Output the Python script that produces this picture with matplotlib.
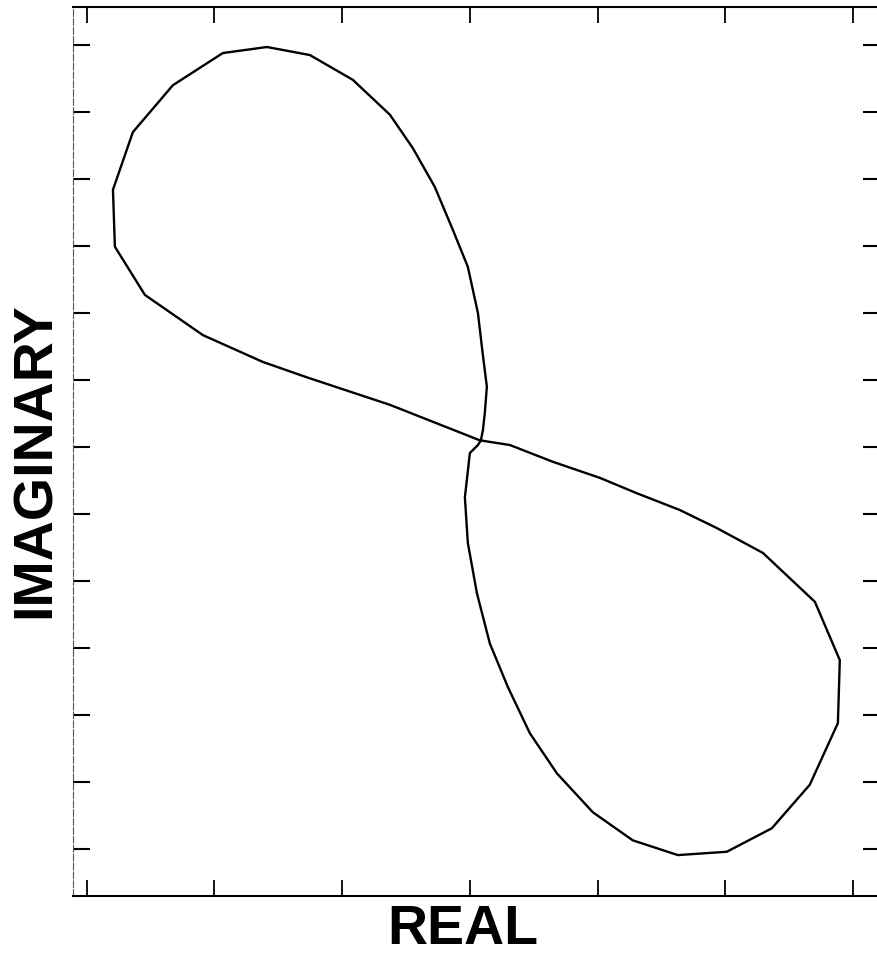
import matplotlib
matplotlib.use("Agg")
import matplotlib.pyplot as plt

# Nyquist-style figure-eight locus (real vs imaginary part)
real_part = [0.086, 0.102, 0.117, 0.133, 0.100, 0.063, -0.016, -0.133, -0.274, -0.446,
             -0.626, -0.916, -1.252, -1.588, -1.933, -2.324, -2.637, -2.793,
             -2.778, -2.543, -2.089, -1.620, -1.275, -0.626, 0.078,
             0.313, 0.649, 1.017, 1.307, 1.643, 1.933, 2.293, 2.700, 2.895,
             2.880, 2.660, 2.363, 2.011, 1.628, 1.275, 0.962, 0.681, 0.469,
             0.297, 0.156, 0.055, -0.016, -0.039, 0.000, 0.063, 0.086]
imag_part = [0.10, 0.25, 0.51, 0.90, 1.40, 2.00, 2.69, 3.24, 3.88, 4.46,
             4.96, 5.48, 5.85, 5.97, 5.88, 5.40, 4.70, 3.84,
             2.99, 2.27, 1.67, 1.27, 1.04, 0.63, 0.10,
             0.03, -0.22, -0.46, -0.69, -0.94, -1.21, -1.58, -2.31, -3.18,
             -4.12, -5.04, -5.69, -6.04, -6.09, -5.87, -5.45, -4.87, -4.27,
             -3.58, -2.93, -2.18, -1.43, -0.75, -0.09, 0.03, 0.10]

x_ticks = [-3, -2, -1, 0, 1, 2, 3]
y_ticks = [-6, -5, -4, -3, -2, -1, 0, 1, 2, 3, 4, 5, 6]

fig = plt.figure(figsize=(8.77, 9.60), dpi=100)
ax = fig.add_axes([0.0832, 0.0667, 0.920, 0.926])

ax.plot(real_part, imag_part, color="black", lw=1.7, solid_joinstyle="round")

ax.set_xlim(-3.106, 3.208)
ax.set_ylim(-6.70, 6.567)
ax.set_xticks(x_ticks)
ax.set_yticks(y_ticks)
ax.set_xticklabels([])
ax.set_yticklabels([])
ax.tick_params(axis="x", which="both", direction="in", length=11.5, width=1.3,
               top=True, bottom=True, color="black")
ax.tick_params(axis="y", which="both", direction="in", length=12.5, width=1.5,
               left=True, right=True, color="black")

for side in ("top", "bottom"):
    ax.spines[side].set_linewidth(1.5)
    ax.spines[side].set_color("black")
ax.spines["left"].set_linewidth(0.8)
ax.spines["left"].set_color("#555555")
ax.spines["left"].set_linestyle((0, (6, 2)))
ax.spines["right"].set_linewidth(1.4)

label_font = dict(family=["Liberation Sans", "DejaVu Sans"], fontweight="bold", fontsize=40)
fig.text(463 / 877, 1 - 930 / 960, "REAL", ha="center", va="center", **label_font)
fig.text(36 / 877, 1 - 460 / 960, "IMAGINARY", ha="center", va="center",
         rotation=90, **label_font)

fig.savefig("out.png", dpi=100, facecolor="white")
